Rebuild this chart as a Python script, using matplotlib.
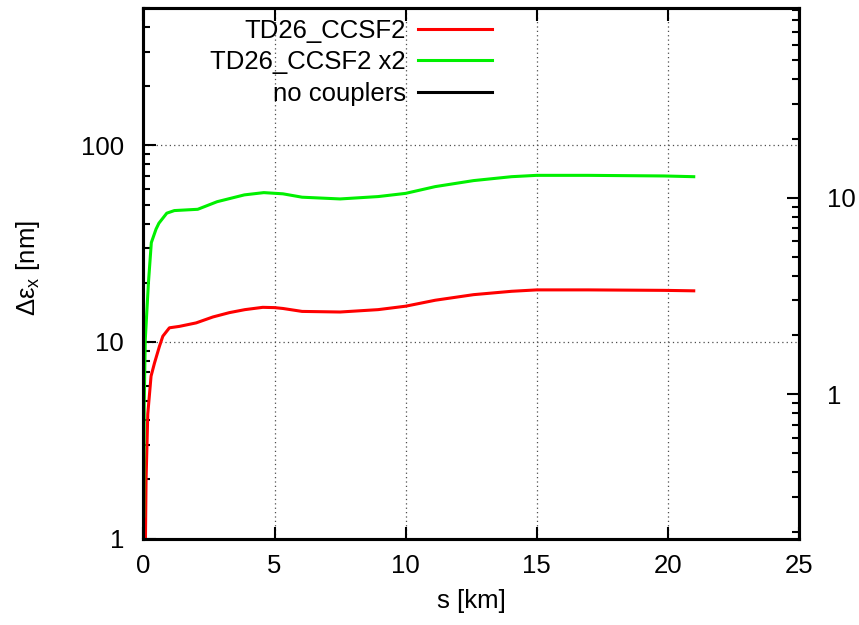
import matplotlib.pyplot as plt
from matplotlib.ticker import LogLocator, NullFormatter

plt.rcParams['font.family'] = ['Liberation Sans', 'DejaVu Sans']
plt.rcParams['mathtext.default'] = 'regular'

# TD26_CCSF2 (red)
s_red = [0.04, 0.076, 0.10, 0.165, 0.29, 0.42, 0.61, 0.74, 0.99, 1.37, 2.01, 2.65,
         3.28, 3.87, 4.55, 5.0, 5.32, 6.05, 7.5, 8.95, 10.0, 11.13, 12.59, 14.04,
         15.0, 16.95, 19.85, 20.99]
eps_red = [0.8, 1.0, 2.0, 4.3, 6.7, 7.8, 9.5, 10.7, 11.8, 12.0, 12.5, 13.4,
           14.1, 14.6, 15.0, 14.95, 14.8, 14.3, 14.2, 14.6, 15.2, 16.3, 17.4, 18.1,
           18.4, 18.4, 18.3, 18.2]

# TD26_CCSF2 x2 (green)
s_green = [0.01, 0.03, 0.07, 0.19, 0.30, 0.48, 0.59, 0.89, 1.18, 2.07, 2.81, 3.85,
           4.59, 5.32, 6.05, 7.5, 8.95, 10.0, 11.13, 12.59, 14.04, 15.0, 16.95,
           19.85, 20.99]
eps_green = [1.3, 5.0, 10.3, 20.0, 32.0, 37.5, 40.2, 45.2, 46.6, 47.3, 51.7, 56.0,
             57.5, 56.7, 54.5, 53.4, 54.9, 57.0, 61.7, 66.2, 69.3, 70.4, 70.4,
             69.9, 69.3]

xticks = [0, 5, 10, 15, 20, 25]
yticks_left = [1, 10, 100]
yticks_right = [1, 10]

fs = 18.5

fig = plt.figure(figsize=(8.59, 6.25), dpi=100)
ax = fig.add_axes([0.167, 0.1384, 0.763, 0.8488])

ax.plot(s_red, eps_red, color='#ff0000', lw=2.2, label='TD26_CCSF2')
ax.plot(s_green, eps_green, color='#00f000', lw=2.2, label='TD26_CCSF2 x2')
ax.plot([], [], color='k', lw=2.2, label='no couplers')

ax.set_yscale('log')
ax.set_xlim(0, 25)
ax.set_ylim(1, 500)
ax.set_xticks(xticks, [str(t) for t in xticks])
ax.set_yticks(yticks_left, [str(t) for t in yticks_left])
ax.yaxis.set_minor_locator(LogLocator(subs=range(2, 10)))
ax.yaxis.set_minor_formatter(NullFormatter())

ax.tick_params(which='both', direction='in', top=True, right=True, width=1.5)
ax.tick_params(which='major', length=9, labelsize=fs)
ax.tick_params(axis='x', pad=11)
ax.tick_params(axis='y', pad=14)
ax.tick_params(which='minor', length=5)

ax.grid(True, which='major', linestyle=(0, (1, 2.5)), color='0.3', lw=0.9)

ax2 = ax.twinx()
ax2.set_yscale('log')
ax2.set_ylim(1 / 5.42, 500 / 5.42)
ax2.set_yticks(yticks_right, [str(t) for t in yticks_right])
ax2.yaxis.set_minor_locator(LogLocator(subs=range(2, 10)))
ax2.yaxis.set_minor_formatter(NullFormatter())
ax2.tick_params(which='both', direction='in', width=1.5)
ax2.tick_params(which='major', length=9, labelsize=fs, pad=20)
ax2.tick_params(which='minor', length=5)

for a in (ax, ax2):
    for sp in a.spines.values():
        sp.set_linewidth(2.2)

ax.set_xlabel('s [km]', fontsize=fs)
ax.xaxis.set_label_coords(0.5, -0.096)
ax.set_ylabel('Δε$_x$ [nm]', fontsize=fs)
ax.yaxis.set_label_coords(-0.155, 0.51)

ax.legend(loc='upper right', bbox_to_anchor=(0.532, 0.980), frameon=False,
          markerfirst=False, handlelength=2.9, handletextpad=0.45,
          labelspacing=0.29, borderpad=0, borderaxespad=0, fontsize=fs)

fig.savefig('out.png', dpi=100)
